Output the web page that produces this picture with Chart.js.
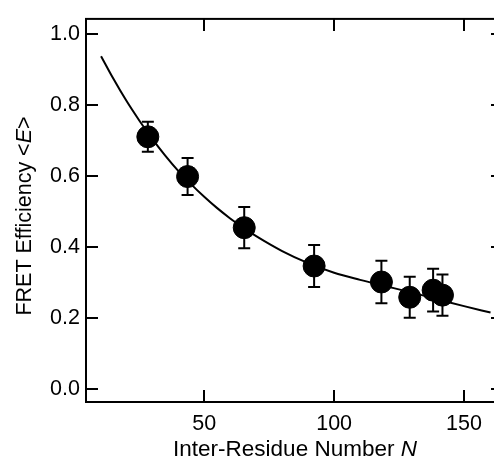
<!DOCTYPE html>
<html>
<head>
<meta charset="utf-8">
<script src="https://cdn.jsdelivr.net/npm/chart.js@4"></script>
<style>
    body { margin: 0; overflow: hidden; background: #fff; }
    #wrap { width: 520px; height: 459px; }
</style>
</head>
<body>
<div id="wrap"><canvas id="fretChart" width="520" height="459"></canvas></div>
<script>
// measured points
const residueN = [28.3, 43.6, 65.4, 92.3, 118.2, 129.1, 138.1, 141.7];
const efficiency = [0.710, 0.598, 0.454, 0.346, 0.301, 0.258, 0.278, 0.264];
const efficiencyErr = [0.042, 0.052, 0.058, 0.059, 0.060, 0.058, 0.060, 0.058];

// fitted curve
const fitN = [10.3, 15, 20, 25, 30, 35, 40, 45, 50, 55, 60, 65, 70, 80, 90, 100, 110, 120, 130, 140, 150, 160.2];
const fitE = [0.937, 0.874, 0.812, 0.756, 0.704, 0.657, 0.614, 0.576, 0.541, 0.509, 0.480, 0.454, 0.430, 0.388, 0.354, 0.327, 0.307, 0.289, 0.271, 0.252, 0.233, 0.215];

const xTicks = [50, 100, 150];
const yTicks = [0, 0.2, 0.4, 0.6, 0.8, 1.0];

const FONT = "'Liberation Sans', Arial, sans-serif";

function drawMixed(ctx, parts, x, y, size) {
    // parts: [text, italic]
    let total = 0;
    parts.forEach(p => {
        ctx.font = (p[1] ? "italic " : "") + size + "px " + FONT;
        total += ctx.measureText(p[0]).width;
    });
    let cx = x - total / 2;
    parts.forEach(p => {
        ctx.font = (p[1] ? "italic " : "") + size + "px " + FONT;
        ctx.fillText(p[0], cx, y);
        cx += ctx.measureText(p[0]).width;
    });
}

const frameAndBars = {
    id: "frameAndBars",
    beforeDatasetsDraw(chart) {
        const ctx = chart.ctx;
        const xs = chart.scales.x, ys = chart.scales.y;
        ctx.save();
        ctx.strokeStyle = "#000";
        ctx.lineWidth = 2;
        residueN.forEach((n, i) => {
            const px = xs.getPixelForValue(n);
            const top = ys.getPixelForValue(efficiency[i] + efficiencyErr[i]);
            const bot = ys.getPixelForValue(efficiency[i] - efficiencyErr[i]);
            ctx.beginPath();
            ctx.moveTo(px, top); ctx.lineTo(px, bot);
            ctx.moveTo(px - 6, top); ctx.lineTo(px + 6, top);
            ctx.moveTo(px - 6, bot); ctx.lineTo(px + 6, bot);
            ctx.stroke();
        });
        ctx.restore();
    },
    afterDraw(chart) {
        const ctx = chart.ctx;
        const a = chart.chartArea;
        const xs = chart.scales.x, ys = chart.scales.y;
        ctx.save();
        ctx.strokeStyle = "#000";
        ctx.lineWidth = 2;
        ctx.strokeRect(a.left, a.top, a.right - a.left, a.bottom - a.top);
        ctx.beginPath();
        xTicks.forEach(v => {
            const px = Math.round(xs.getPixelForValue(v));
            ctx.moveTo(px, a.bottom); ctx.lineTo(px, a.bottom - 12);
            ctx.moveTo(px, a.top); ctx.lineTo(px, a.top + 12);
        });
        yTicks.forEach(v => {
            const py = Math.round(ys.getPixelForValue(v));
            ctx.moveTo(a.left, py); ctx.lineTo(a.left + 12, py);
            ctx.moveTo(a.right, py); ctx.lineTo(a.right - 12, py);
        });
        ctx.stroke();

        ctx.fillStyle = "#000";
        ctx.textBaseline = "alphabetic";
        drawMixed(ctx, [["Inter-Residue Number ", false], ["N", true]], 295, 456, 22.5);
        ctx.translate(31, 216);
        ctx.rotate(-Math.PI / 2);
        drawMixed(ctx, [["FRET Efficiency <", false], ["E", true], [">", false]], 0, 0, 21.5);
        ctx.restore();
    }
};

new Chart(document.getElementById("fretChart"), {
    type: "scatter",
    data: {
        datasets: [{
            data: residueN.map((n, i) => ({ x: n, y: efficiency[i] })),
            backgroundColor: "#000",
            borderColor: "#000",
            pointRadius: 11,
            pointHoverRadius: 11,
            order: 0
        }, {
            data: fitN.map((n, i) => ({ x: n, y: fitE[i] })),
            showLine: true,
            borderColor: "#000",
            borderWidth: 2,
            pointRadius: 0,
            cubicInterpolationMode: "monotone",
            order: 1
        }]
    },
    options: {
        responsive: false,
        animation: false,
        devicePixelRatio: 1,
        layout: { padding: { left: 0, right: 17, top: 16, bottom: 0 } },
        plugins: { legend: { display: false }, tooltip: { enabled: false } },
        scales: {
            x: {
                min: 4.5,
                max: 165,
                afterBuildTicks: s => { s.ticks = xTicks.map(v => ({ value: v })); },
                afterFit: s => { s.height = 57; },
                grid: { display: false, drawTicks: false },
                border: { display: false },
                ticks: { color: "#000", padding: 9, font: { size: 21.5, family: FONT } }
            },
            y: {
                min: -0.037,
                max: 1.042,
                afterBuildTicks: s => { s.ticks = yTicks.map(v => ({ value: v })); },
                afterFit: s => { s.width = 86; },
                grid: { display: false, drawTicks: false },
                border: { display: false },
                ticks: {
                    color: "#000", padding: 6, font: { size: 21.5, family: FONT },
                    callback: v => v.toFixed(1)
                }
            }
        }
    },
    plugins: [frameAndBars]
});
</script>
</body>
</html>
